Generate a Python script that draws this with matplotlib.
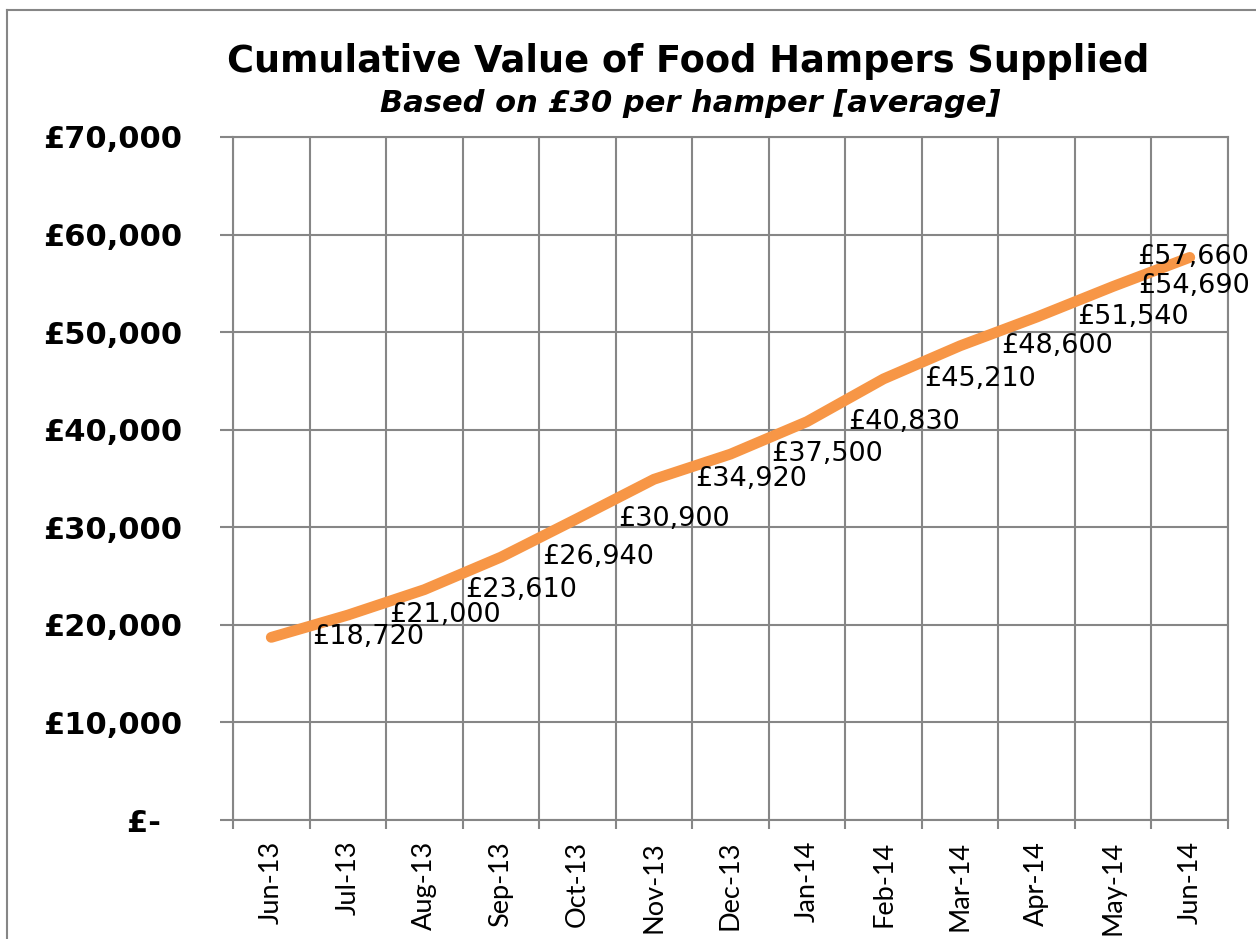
import matplotlib
matplotlib.use("Agg")
import matplotlib.pyplot as plt
from matplotlib import font_manager
from matplotlib.lines import Line2D

months = ["Jun-13", "Jul-13", "Aug-13", "Sep-13", "Oct-13", "Nov-13", "Dec-13",
          "Jan-14", "Feb-14", "Mar-14", "Apr-14", "May-14", "Jun-14"]
values = [18720, 21000, 23610, 26940, 30900, 34920, 37500,
          40830, 45210, 48600, 51540, 54690, 57660]
y_ticks = [0, 10000, 20000, 30000, 40000, 50000, 60000, 70000]

W, H = 1256, 939
grid_col = "#868686"
line_col = "#F79646"

installed = {f.name for f in font_manager.fontManager.ttflist}
narrow = "Liberation Sans Narrow" if "Liberation Sans Narrow" in installed else "Lato"

fig = plt.figure(figsize=(W / 100, H / 100), dpi=100)
ax = fig.add_axes([233 / W, 1 - 820 / H, (1228 - 233) / W, (820 - 137) / H])

x = list(range(len(months)))
ax.plot(x, values, color=line_col, linewidth=7.8, solid_capstyle="round",
        solid_joinstyle="round", zorder=3)

ax.set_xlim(-0.5, len(months) - 0.5)
ax.set_ylim(0, 70000)

# category boundaries carry ticks and gridlines, labels sit at centres
ax.set_xticks([i - 0.5 for i in range(len(months) + 1)])
ax.set_xticklabels([])
ax.set_xticks(x, minor=True)
ax.set_xticklabels(months, minor=True, rotation=90, fontsize=19.5,
                   family=narrow, va="top", ha="center")
ax.tick_params(axis="x", which="major", length=6.5, width=1.5, color=grid_col)
ax.tick_params(axis="x", which="minor", length=0, pad=15)

ax.set_yticks(y_ticks)
ax.set_yticklabels(["£-  " if v == 0 else f"£{v:,}" for v in y_ticks],
                   fontsize=22, fontweight="bold", family="DejaVu Sans")
ax.tick_params(axis="y", length=9.4, width=1.5, color=grid_col, pad=27)

ax.grid(True, which="major", color=grid_col, linewidth=1.5)
ax.set_axisbelow(True)
for s in ax.spines.values():
    s.set_color(grid_col)
    s.set_linewidth(1.5)

# labels sit to the right of each point; the last two are pulled in to fit
for i, v in enumerate(values):
    if i == len(values) - 1:
        dx = -52
    elif i == len(values) - 2:
        dx = 25
    else:
        dx = 41
    ax.annotate(f"£{v:,}", (i, v), xytext=(dx, 0), textcoords="offset pixels",
                ha="left", va="center", fontsize=19.5, family="DejaVu Sans",
                zorder=4)

fig.text(688 / W, 1 - 61 / H, "Cumulative Value of Food Hampers Supplied",
         ha="center", va="center", fontsize=26.5, fontweight="bold",
         family="DejaVu Sans")
fig.text(690 / W, 1 - 103 / H, "Based on £30 per hamper [average]",
         ha="center", va="center", fontsize=22, fontweight="bold",
         style="italic", family="DejaVu Sans")

# outer chart border (runs off the right and bottom edges)
fig.add_artist(Line2D([7 / W, 7 / W], [1 - 10 / H, -0.01], color=grid_col,
                      linewidth=1.5, transform=fig.transFigure))
fig.add_artist(Line2D([7 / W, 1.01], [1 - 10 / H, 1 - 10 / H], color=grid_col,
                      linewidth=1.5, transform=fig.transFigure))

fig.savefig("out.png", dpi=100)
